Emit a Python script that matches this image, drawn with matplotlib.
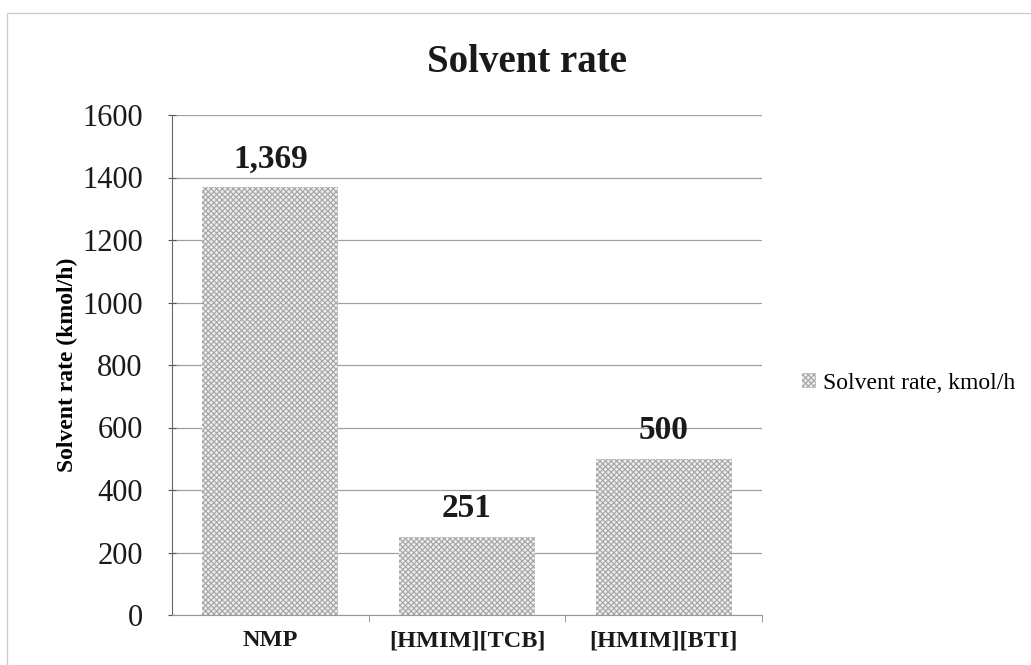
import matplotlib.pyplot as plt
from matplotlib.patches import Rectangle, Patch

# --- DATA ---
categories = ["NMP", "[HMIM][TCB]", "[HMIM][BTI]"]
values = [1369, 251, 500]
value_labels = ["1,369", "251", "500"]
series_name = "Solvent rate, kmol/h"

plt.rcParams['font.family'] = ['Liberation Serif', 'DejaVu Serif']
plt.rcParams['hatch.color'] = '#a4a4a4'
plt.rcParams['hatch.linewidth'] = 0.8

fig = plt.figure(figsize=(10.31, 6.65), dpi=100)
ax = fig.add_axes([172 / 1031, 1 - 615 / 665, 590 / 1031, 500 / 665])

# outer chart border
fig.patches.append(Rectangle((7 / 1031, -0.01), 1.0, 1 - 13 / 665 + 0.01,
                             transform=fig.transFigure, fill=False,
                             edgecolor='#cccccc', linewidth=1))

x = range(len(categories))
ax.bar(x, values, width=0.69, color='#ededed', hatch='xxxxxx',
       edgecolor='#a4a4a4', linewidth=0, zorder=3)

for xi, v, lab in zip(x, values, value_labels):
    ax.text(xi, v + 62, lab, ha='center', va='baseline', fontsize=24,
            fontweight='bold', color='#1a1a1a')

ax.set_xlim(-0.5, 2.5)
ax.set_ylim(0, 1600)
ax.set_yticks(range(0, 1601, 200))
ax.tick_params(axis='y', labelsize=22, length=6, direction='inout',
               color='#555555', colors='#1a1a1a', pad=18)
ax.set_xticks(list(x))
ax.set_xticklabels(categories, fontsize=17.5, fontweight='bold', color='#1a1a1a')
ax.tick_params(axis='x', length=0, pad=11)
# separator ticks between categories
ax.set_xticks([0.5, 1.5, 2.5], minor=True)
ax.tick_params(axis='x', which='minor', length=5, color='#888888')

ax.grid(True, axis='y', color='#a0a0a0', linewidth=0.9, zorder=0)
for s in ['top', 'right']:
    ax.spines[s].set_visible(False)
ax.spines['left'].set_color('#666666')
ax.spines['bottom'].set_color('#999999')

ax.set_ylabel("Solvent rate (kmol/h)", fontsize=17, fontweight='bold', labelpad=3)
fig.text(527 / 1031, 1 - 72 / 665, "Solvent rate", ha='center', va='baseline',
         fontsize=28, fontweight='bold', color='#1a1a1a')

handle = Patch(facecolor='#ededed', hatch='xxxxxx', edgecolor='#a4a4a4', linewidth=0)
fig.legend([handle], [series_name], loc='center left',
           bbox_to_anchor=(802 / 1031, 1 - 383 / 665), frameon=False,
           fontsize=17, handlelength=0.6, handleheight=0.6, handletextpad=0.3,
           borderpad=0, borderaxespad=0)

fig.savefig("out.png", dpi=100)
